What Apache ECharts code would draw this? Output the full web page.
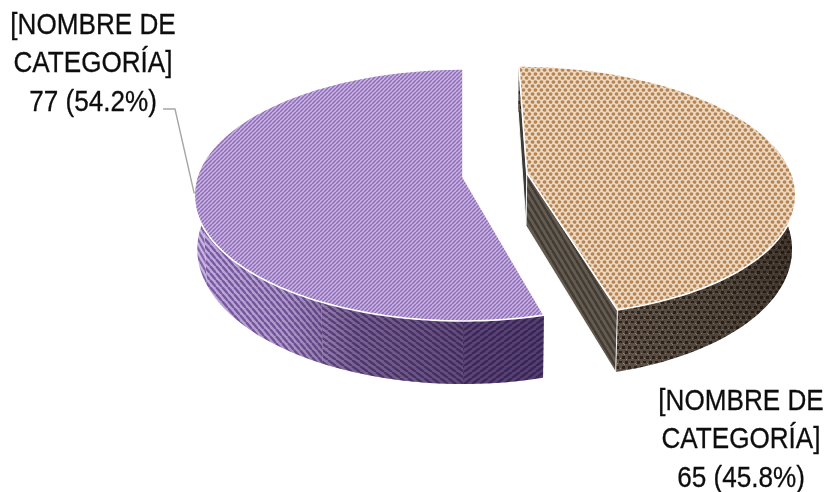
<!DOCTYPE html>
<html>
<head>
<meta charset="utf-8">
<style>html,body{margin:0;padding:0;background:#fff}#chart{width:828px;height:492px}</style>
<script src="https://cdn.jsdelivr.net/npm/echarts@6/dist/echarts.min.js"></script>
</head>
<body>
<div id="chart"></div>
<script>
// Values of the pie, clockwise from twelve o'clock
const categories = ['[NOMBRE DE\nCATEGORÍA]', '[NOMBRE DE\nCATEGORÍA]'];
const values = [65, 77];
const explode = [0.243, 0];

// Perspective camera for the cylinder: unit circle on the plan -> screen
const PERSPECTIVE = 1 / 7;
const TOP_RING = { x: 463, y: 177, a: 266, b: 123.4 };
const BASE_RING = { x: 463, y: 230, a: 263, b: 132 };
const LABEL_BOX = [{ x: 741, y: 382 }, { x: 93, y: 6 }];
const LABEL_SQUEEZE = 0.87;
const LEADER_ELBOW = [null, [[163, 109], [175, 109]]];

function tile(w, h, paint) {
  const c = document.createElement('canvas');
  c.width = w; c.height = h;
  paint(c.getContext('2d'), w, h);
  return { image: c, repeat: 'repeat' };
}
// One diagonal stripe that wraps seamlessly; rising selects "/" or "\"
function stripes(w, h, rising, bg, fg, lw) {
  return tile(w, h, (g) => {
    g.fillStyle = bg; g.fillRect(0, 0, w, h);
    g.strokeStyle = fg; g.lineWidth = lw;
    for (let i = -1; i <= 1; i++) {
      g.beginPath();
      g.moveTo(i * w, rising ? h : 0);
      g.lineTo(i * w + w, rising ? 0 : h);
      g.stroke();
    }
  });
}
// Fine staggered dots on the tan slice
const tanTop = tile(6, 8, (g, w, h) => {
  g.fillStyle = '#edd9c4'; g.fillRect(0, 0, w, h);
  [[1.5, 2], [4.5, 6], [7.5, 2], [-1.5, 6], [1.5, 10], [4.5, -2]].forEach(([x, y]) => {
    g.fillStyle = '#b68450';
    g.beginPath(); g.ellipse(x, y, 1.9, 1.7, 0, 0, 7); g.fill();
  });
});
// Dark mosaic on the tan slice's rim
const tanRim = tile(12, 10, (g, w, h) => {
  g.fillStyle = '#5e5247'; g.fillRect(0, 0, w, h);
  g.fillStyle = '#2e241c';
  [[1, 1, 3, 3], [7, 1, 3, 2], [4, 6, 3, 3], [10, 6, 2, 3], [0, 6, 1, 3]].forEach((r) => g.fillRect(...r));
  g.fillStyle = '#96867a';
  [[5, 3, 1, 1], [0, 4, 1, 1], [8, 8, 1, 1], [2, 9, 1, 1], [11, 3, 1, 1]].forEach((r) => g.fillRect(...r));
});
const tanCut = stripes(6, 10, false, '#645c51', '#423b34', 2.4);
const purpleTop = stripes(4, 4, true, '#c9b5e3', '#8f6cb6', 1.5);
// Rim hatch turns gradually as it wraps round the cylinder, front to left
const purpleRimZones = [
  { until: 0.078, fill: stripes(8, 6, true, '#b9a4d6', '#6f4f96', 2.4) },
  { until: 0.22, fill: stripes(8, 6, false, '#c0acdc', '#775699', 2.3) },
  { until: 0.42, fill: stripes(6, 7, false, '#c0acdc', '#7a59a2', 2.3) },
  { until: 1, fill: stripes(5, 9, false, '#c8b6e2', '#8464ac', 2.2) }
];

const total = values.reduce((s, v) => s + v, 0);

function project(ring, u, v) {
  const d = 1 - PERSPECTIVE * v;
  return [ring.x + ring.a * u / d, ring.y + ring.b * v / d];
}
// Point on slice i at clock angle t (radians); radius 0 gives the apex
function slicePoint(ring, i, t, r, mid) {
  const ox = explode[i] * Math.sin(mid), oy = -explode[i] * Math.cos(mid);
  return project(ring, ox + r * Math.sin(t), oy - r * Math.cos(t));
}

function renderSlice(params, api) {
  const i = params.dataIndex;
  const before = values.slice(0, i).reduce((s, v) => s + v, 0);
  const value = api.value(0);
  const t0 = before / total * 2 * Math.PI;
  const t1 = (before + value) / total * 2 * Math.PI;
  const mid = (t0 + t1) / 2;
  const arc = (ring, a, b) => {
    const pts = [];
    const n = Math.max(2, Math.ceil(Math.abs(b - a) * 40));
    for (let k = 0; k <= n; k++) pts.push(slicePoint(ring, i, a + (b - a) * k / n, 1, mid));
    return pts;
  };
  const at = (ring, t, r) => slicePoint(ring, i, t, r, mid);
  const poly = (points, fill, extra) => ({
    type: 'polygon', shape: { points },
    style: Object.assign({ fill, stroke: '#fff', lineWidth: 0.9 }, extra || {})
  });
  const shade = (x, x2, stops) => ({
    type: 'linear', x, y: 0, x2, y2: 0, global: true,
    colorStops: stops.map(([offset, color]) => ({ offset, color }))
  });
  const rim = (a, b) => arc(TOP_RING, a, b).concat(arc(BASE_RING, a, b).reverse());
  const children = [];

  if (i === 0) {
    const rimPts = rim(t0, t1);
    children.push(poly([at(TOP_RING, t0, 1), at(TOP_RING, t0, 0), at(BASE_RING, t0, 0), at(BASE_RING, t0, 1)], '#3e3a36'));
    children.push(poly(rimPts, tanRim, { stroke: 'none' }));
    children.push(poly(rimPts, shade(620, 800, [[0, 'rgba(20,12,6,0.02)'], [0.6, 'rgba(20,12,6,0.22)'], [1, 'rgba(20,12,6,0.45)']]), { stroke: 'none' }));
    children.push(poly([at(TOP_RING, t1, 0), at(TOP_RING, t1, 1), at(BASE_RING, t1, 1), at(BASE_RING, t1, 0)], tanCut));
    children.push(poly([at(TOP_RING, t0, 0)].concat(arc(TOP_RING, t0, t1)), tanTop, { lineWidth: 1.6 }));
  } else {
    let from = t0;
    purpleRimZones.forEach((zone) => {
      const to = t0 + (t1 - t0) * zone.until;
      children.push(poly(rim(from, to), zone.fill, { stroke: 'none' }));
      from = to;
    });
    children.push(poly(rim(t0, t1), shade(200, 545, [
      [0, 'rgba(30,12,55,0)'], [0.25, 'rgba(30,12,55,0.12)'], [0.45, 'rgba(30,12,55,0.45)'], [0.8, 'rgba(30,12,55,0.62)'], [1, 'rgba(30,12,55,0.66)']
    ]), { stroke: 'none' }));
    children.push(poly([at(TOP_RING, t0, 0)].concat(arc(TOP_RING, t0, t1)), purpleTop, { lineWidth: 1.6 }));
  }

  // Data label and its leader line
  const pct = (value / total * 100).toFixed(1);
  const box = LABEL_BOX[i];
  children.push({
    type: 'text',
    x: box.x, y: box.y, scaleX: LABEL_SQUEEZE,
    style: {
      x: 0, y: 0, align: 'center', verticalAlign: 'top',
      text: categories[i] + '\n' + value + ' (' + pct + '%)',
      fill: '#0d0d0d', stroke: '#0d0d0d', lineWidth: 0.3,
      font: '30px "Liberation Sans"', lineHeight: 38.5
    }
  });
  if (LEADER_ELBOW[i]) {
    children.push({
      type: 'polyline', silent: true,
      shape: { points: LEADER_ELBOW[i].concat([at(TOP_RING, mid, 1)]) },
      style: { stroke: '#a6a6a6', lineWidth: 1.4, fill: 'none' }
    });
  }
  return { type: 'group', children };
}

const chart = echarts.init(document.getElementById('chart'), null, { renderer: 'canvas' });
chart.setOption({
  animation: false,
  backgroundColor: '#ffffff',
  series: [{
    type: 'custom',
    coordinateSystem: 'none',
    renderItem: renderSlice,
    data: values.map((v) => [v]),
    silent: true
  }]
});
</script>
</body>
</html>
